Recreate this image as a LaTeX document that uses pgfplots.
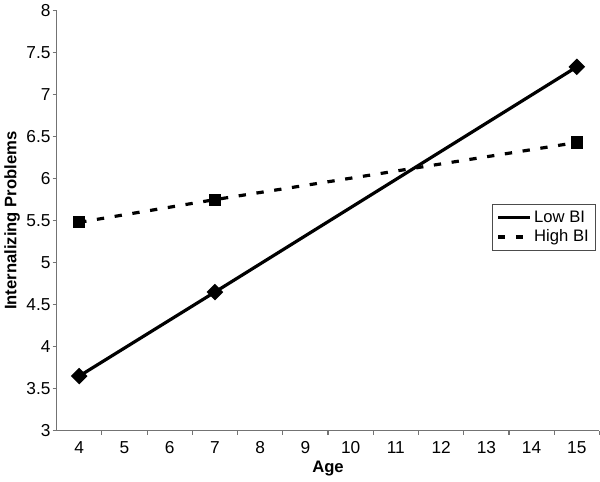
\documentclass[border=0pt]{standalone}
\usepackage{pgfplots}
\pgfplotsset{compat=1.18}
\usepackage{fontspec}
\setmainfont{Liberation Sans}
\begin{document}
\begin{tikzpicture}
\begin{axis}[
  scale only axis,
  width=408pt, height=315.75pt,
  xmin=3.5, xmax=15.5,
  ymin=3, ymax=8,
  axis x line*=bottom, axis y line*=left,
  axis line style={draw=black!55, line width=0.8pt},
  xtick={4,...,15},
  major x tick style={draw=none},
  minor xtick={4.5,5.5,...,14.5,15.5},
  minor x tick style={draw=black!55, line width=0.8pt},
  minor tick length=3pt,
  ytick={3,3.5,...,8},
  yticklabels={3,3.5,4,4.5,5,5.5,6,6.5,7,7.5,8},
  major y tick style={draw=black!55, line width=0.8pt},
  major tick length=3pt,
  tick align=outside,
  tick label style={font=\fontsize{13}{15}\selectfont},
  /pgf/number format/assume math mode=true,
  xticklabel style={yshift=-1.5pt},
  yticklabel style={xshift=2pt},
  xlabel={\textbf{Age}},
  ylabel={\textbf{Internalizing Problems}},
  label style={font=\fontsize{12.5}{14}\selectfont},
  xlabel style={yshift=1pt},
  ylabel style={yshift=-2pt},
  legend style={at={(0.993,0.539)}, anchor=north east, draw=black!70,
    font=\fontsize{12.5}{15}\selectfont, inner xsep=3pt, inner ysep=3pt,
    row sep=0pt, /tikz/every even column/.append style={column sep=1pt}},
  legend cell align=left,
  legend image code/.code={\draw[#1, mark=none] (0pt,0pt) -- (24pt,0pt);},
]
\addplot[black, line width=2.4pt, mark=square*, mark size=3.2pt, mark options={solid, rotate=45}]
  coordinates {(4,3.65) (7,4.65) (15,7.33)};
\addlegendentry{Low BI}
\addplot[black, line width=2.4pt, dash pattern=on 5.5pt off 8pt, mark=square*, mark size=3.4pt, mark options={solid}]
  coordinates {(4,5.48) (7,5.75) (15,6.43)};
\addlegendentry{High BI}
\end{axis}
\path[use as bounding box] (-42pt,-38.25pt) rectangle (408pt,321pt);
\end{tikzpicture}
\end{document}
